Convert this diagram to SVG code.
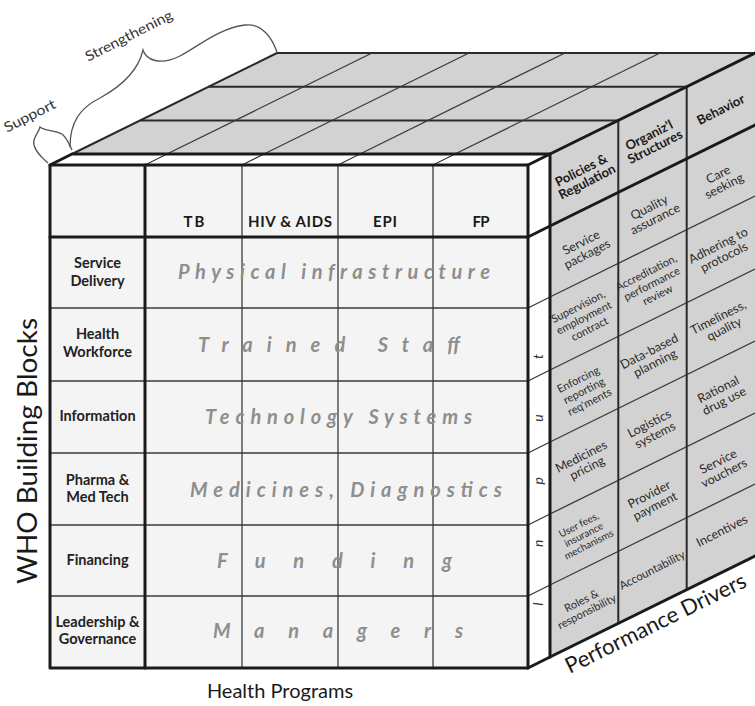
<svg xmlns="http://www.w3.org/2000/svg" width="755" height="706" viewBox="0 0 755 706">
<style>
.fg{fill:#f4f4f4}
.gr{fill:#d2d2d2}
.wh{fill:#fff}
.thick{stroke:#1a1a1a;stroke-width:3;fill:none;stroke-linejoin:round;stroke-linecap:round}
.med{stroke:#2a2a2a;stroke-width:2;fill:none}
.thin{stroke:#3a3a3a;stroke-width:1.3;fill:none}
.brace{stroke:#555;stroke-width:1.3;fill:none}
text{font-family:Lato,"Open Sans","Liberation Sans",sans-serif}
.hdr{font-size:15px;font-weight:bold;fill:#1a1a1a;text-anchor:middle}
.lbl{font-size:14.5px;font-weight:bold;fill:#222;text-anchor:middle}
.big{font-size:20px;font-style:italic;font-weight:bold;fill:#8e8e8e}
.cell{font-size:12.5px;fill:#2a2a2a;text-anchor:middle}
.cs{font-size:11px;fill:#2a2a2a;text-anchor:middle}
.cellh{font-size:13px;font-weight:bold;fill:#1a1a1a;text-anchor:middle}
.axis{font-size:20px;fill:#1a1a1a;text-anchor:middle}
.sm{font-size:14px;fill:#333;text-anchor:middle}
.inp{font-size:14px;font-style:italic;fill:#333}
</style>

<g id="faces">
  <polygon class="gr" points="72,154 550,154 755,53 277,53"/>
  <polygon class="wh" points="50,165 528,165 550,154 72,154"/>
  <rect class="fg" x="50" y="165" width="478" height="503"/>
  <polygon class="wh" points="528,165 550,154 550,657 528,668"/>
  <polygon class="gr" points="550,154 755,53 755,556 550,657"/>
</g>

<g id="grid-lines">
  <line class="med" x1="140.3" y1="120.4" x2="618.3" y2="120.4"/>
  <line class="med" x1="208.7" y1="86.7" x2="686.7" y2="86.7"/>
  <line class="med" x1="277" y1="53" x2="755" y2="53"/>
  <line class="med" x1="72" y1="154" x2="277" y2="53"/>
  <g class="thin">
    <line x1="167" y1="154" x2="372" y2="53"/>
    <line x1="264" y1="154" x2="469" y2="53"/>
    <line x1="360" y1="154" x2="565" y2="53"/>
    <line x1="455" y1="154" x2="660" y2="53"/>
    <line x1="145" y1="165" x2="167" y2="154"/>
    <line x1="242" y1="165" x2="264" y2="154"/>
    <line x1="338" y1="165" x2="360" y2="154"/>
    <line x1="433" y1="165" x2="455" y2="154"/>
  </g>
  <g class="thin">
    <line x1="50" y1="308" x2="528" y2="308"/>
    <line x1="50" y1="381" x2="528" y2="381"/>
    <line x1="50" y1="453" x2="528" y2="453"/>
    <line x1="50" y1="525" x2="528" y2="525"/>
    <line x1="50" y1="596" x2="528" y2="596"/>
    <line x1="242" y1="165" x2="242" y2="668"/>
    <line x1="338" y1="165" x2="338" y2="668"/>
    <line x1="433" y1="165" x2="433" y2="668"/>
  </g>
  <g class="thin">
    <line x1="528" y1="308" x2="550" y2="297"/>
    <line x1="528" y1="381" x2="550" y2="370"/>
    <line x1="528" y1="453" x2="550" y2="442"/>
    <line x1="528" y1="525" x2="550" y2="514"/>
    <line x1="528" y1="596" x2="550" y2="585"/>
    <line x1="550" y1="297" x2="755" y2="196"/>
    <line x1="550" y1="370" x2="755" y2="269"/>
    <line x1="550" y1="442" x2="755" y2="341"/>
    <line x1="550" y1="514" x2="755" y2="413"/>
    <line x1="550" y1="585" x2="755" y2="484"/>
  </g>
  <g class="med">
    <line x1="618.3" y1="120.4" x2="618.3" y2="623.4"/>
    <line x1="686.7" y1="86.7" x2="686.7" y2="589.7"/>
  </g>
  <g class="thick">
    <rect x="50" y="165" width="478" height="503"/>
    <line x1="50" y1="237" x2="528" y2="237"/>
    <line x1="145" y1="165" x2="145" y2="668"/>
    <polyline points="50,165 72,154 550,154 755,53"/>
    <line x1="528" y1="165" x2="550" y2="154"/>
    <line x1="550" y1="154" x2="550" y2="657"/>
    <polyline points="528,668 550,657 755,556"/>
    <polyline points="528,237 550,226 755,125"/>
  </g>
</g>

<g id="braces">
  <path class="brace" d="M48,163 C40,156 32,148 34,140 C36,134 39,131 40,127 C44,131 54,130 62,134 C67,138 69,144 72,150"/>
  <path class="brace" d="M70,147 C70,122 80,108 100,98 C120,87 138,72 143,50 C146,60 160,66 180,56 C200,45 220,28 245,25 C262,23 272,38 277,52"/>
  <text class="sm" transform="translate(32,120) rotate(-27)" textLength="56" lengthAdjust="spacingAndGlyphs">Support</text>
  <text class="sm" transform="translate(131,40) rotate(-27)" textLength="96" lengthAdjust="spacingAndGlyphs">Strengthening</text>
</g>

<g id="column-headers">
  <text class="hdr" x="194" y="227" textLength="21">TB</text>
  <text class="hdr" x="290" y="227" textLength="84">HIV &amp; AIDS</text>
  <text class="hdr" x="385" y="227" textLength="24">EPI</text>
  <text class="hdr" x="481" y="227" textLength="17">FP</text>
</g>

<g id="row-labels">
  <text class="lbl" x="97.5" y="268">Service</text>
  <text class="lbl" x="97.5" y="286">Delivery</text>
  <text class="lbl" x="97.5" y="339">Health</text>
  <text class="lbl" x="97.5" y="357">Workforce</text>
  <text class="lbl" x="97.5" y="421">Information</text>
  <text class="lbl" x="97.5" y="485">Pharma &amp;</text>
  <text class="lbl" x="97.5" y="502">Med Tech</text>
  <text class="lbl" x="97.5" y="565">Financing</text>
  <text class="lbl" x="97.5" y="627">Leadership &amp;</text>
  <text class="lbl" x="97.5" y="644">Governance</text>
</g>

<g id="inputs">
  <text class="big" x="178" y="279" textLength="312" lengthAdjust="spacing">Physical infrastructure</text>
  <text class="big" x="198" y="352" textLength="262" lengthAdjust="spacing">Trained Staff</text>
  <text class="big" x="205" y="424" textLength="267" lengthAdjust="spacing">Technology Systems</text>
  <text class="big" x="190" y="497" textLength="312" lengthAdjust="spacing">Medicines, Diagnostics</text>
  <text class="big" x="217" y="568" textLength="235" lengthAdjust="spacing">Funding</text>
  <text class="big" x="213" y="638" textLength="250" lengthAdjust="spacing">Managers</text>
  <text class="inp" transform="translate(543,606) rotate(-90)" textLength="252" lengthAdjust="spacing">Input</text>
</g>

<g id="drivers">
  <g transform="translate(584,176) rotate(-27)"><text class="cellh" y="-2">Policies &amp;</text><text class="cellh" y="11">Regulation</text></g>
  <g transform="translate(652,141) rotate(-27)"><text class="cellh" y="-2">Organiz'l</text><text class="cellh" y="11">Structures</text></g>
  <g transform="translate(721,110) rotate(-27)"><text class="cellh" y="4">Behavior</text></g>

  <g transform="translate(584,248) rotate(-27)"><text class="cell" y="-2">Service</text><text class="cell" y="11">packages</text></g>
  <g transform="translate(652,213) rotate(-27)"><text class="cell" y="-2">Quality</text><text class="cell" y="11">assurance</text></g>
  <g transform="translate(721,180) rotate(-27)"><text class="cell" y="-2">Care</text><text class="cell" y="11">seeking</text></g>

  <g transform="translate(584,318) rotate(-27)"><text class="cs" y="-9">Supervision,</text><text class="cs" y="3.5">employment</text><text class="cs" y="16">contract</text></g>
  <g transform="translate(652,284) rotate(-27)"><text class="cs" y="-9">Accreditation,</text><text class="cs" y="3.5">performance</text><text class="cs" y="16">review</text></g>
  <g transform="translate(721,251) rotate(-27)"><text class="cell" y="-2">Adhering to</text><text class="cell" y="11">protocols</text></g>

  <g transform="translate(584,391) rotate(-27)"><text class="cs" y="-9">Enforcing</text><text class="cs" y="3.5">reporting</text><text class="cs" y="16">req'ments</text></g>
  <g transform="translate(652,357) rotate(-27)"><text class="cell" y="-2">Data-based</text><text class="cell" y="11">planning</text></g>
  <g transform="translate(721,323) rotate(-27)"><text class="cell" y="-2">Timeliness,</text><text class="cell" y="11">quality</text></g>

  <g transform="translate(584,462) rotate(-27)"><text class="cell" y="-2">Medicines</text><text class="cell" y="11">pricing</text></g>
  <g transform="translate(652,429) rotate(-27)"><text class="cell" y="-2">Logistics</text><text class="cell" y="11">systems</text></g>
  <g transform="translate(721,395) rotate(-27)"><text class="cell" y="-2">Rational</text><text class="cell" y="11">drug use</text></g>

  <g transform="translate(584,535) rotate(-27)"><text class="cs" y="-8" style="font-size:10px">User fees,</text><text class="cs" y="3" style="font-size:10px">insurance</text><text class="cs" y="14" style="font-size:10px">mechanisms</text></g>
  <g transform="translate(652,500) rotate(-27)"><text class="cell" y="-2">Provider</text><text class="cell" y="11">payment</text></g>
  <g transform="translate(721,467) rotate(-27)"><text class="cell" y="-2">Service</text><text class="cell" y="11">vouchers</text></g>

  <g transform="translate(584,606) rotate(-27)"><text class="cs" y="-2">Roles &amp;</text><text class="cs" y="10">responsibility</text></g>
  <g transform="translate(652,570) rotate(-27)"><text class="cs" y="4" style="font-size:11.5px">Accountability</text></g>
  <g transform="translate(722,531) rotate(-27)"><text class="cell" y="4">Incentives</text></g>
</g>

<g id="axis-labels">
  <text class="axis" transform="translate(37,451) rotate(-90)" style="font-size:26px" textLength="266" lengthAdjust="spacingAndGlyphs">WHO Building Blocks</text>
  <text class="axis" x="280" y="698">Health Programs</text>
  <text class="axis" transform="translate(659,630) rotate(-26.3)" style="font-size:22px">Performance Drivers</text>
</g>
</svg>
